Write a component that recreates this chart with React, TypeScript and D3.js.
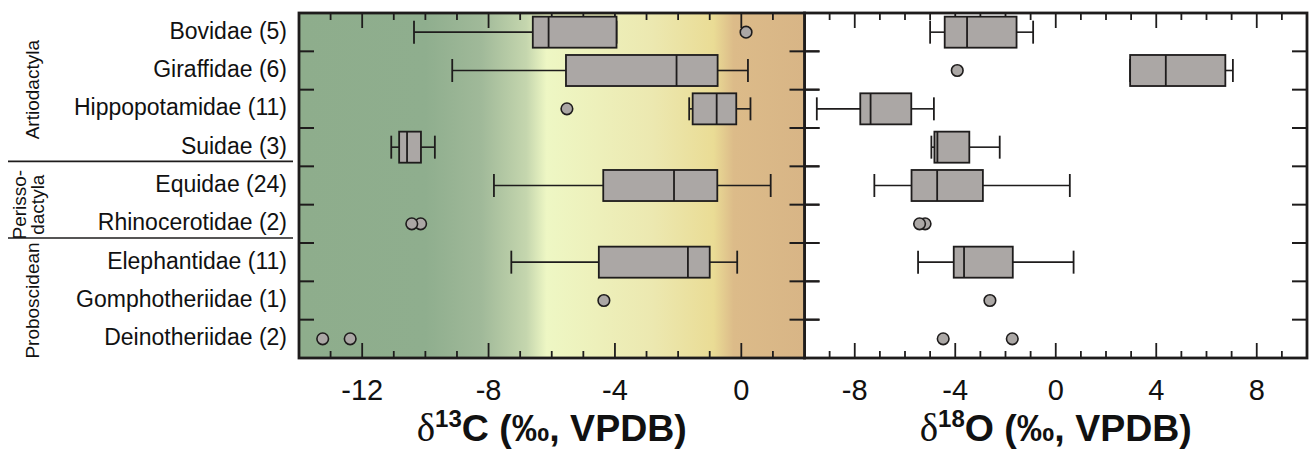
import React from "react";
import * as d3 from "d3";

const categories = [
  "Bovidae (5)",
  "Giraffidae (6)",
  "Hippopotamidae (11)",
  "Suidae (3)",
  "Equidae (24)",
  "Rhinocerotidae (2)",
  "Elephantidae (11)",
  "Gomphotheriidae (1)",
  "Deinotheriidae (2)",
];

// δ13C box statistics (null = no box)
const carbonLow = [-10.36, -9.15, -1.65, -11.08, -7.83, null, -7.28, null, null];
const carbonQ1 = [-6.6, -5.55, -1.54, -10.83, -4.37, null, -4.51, null, null];
const carbonMedian = [-6.1, -2.05, -0.78, -10.58, -2.13, null, -1.69, null, null];
const carbonQ3 = [-3.95, -0.75, -0.16, -10.14, -0.76, null, -1.0, null, null];
const carbonHigh = [-3.95, 0.21, 0.29, -9.7, 0.93, null, -0.13, null, null];
const carbonPoints = [[0.15], [], [-5.52], [], [], [-10.15, -10.43], [], [-4.35], [-13.25, -12.38]];

// δ18O box statistics
const oxygenLow = [-5.0, 2.96, -9.51, -4.95, -7.22, null, -5.48, null, null];
const oxygenQ1 = [-4.42, 2.96, -7.78, -4.83, -5.74, null, -4.06, null, null];
const oxygenMedian = [-3.53, 4.38, -7.37, -4.71, -4.72, null, -3.65, null, null];
const oxygenQ3 = [-1.56, 6.75, -5.75, -3.44, -2.9, null, -1.71, null, null];
const oxygenHigh = [-0.9, 7.05, -4.85, -2.23, 0.56, null, 0.71, null, null];
const oxygenPoints = [[], [-3.92], [], [], [], [-5.2, -5.42], [], [-2.62], [-4.48, -1.73]];

const carbonTicks = [-12, -8, -4, 0];
const oxygenTicks = [-8, -4, 0, 4, 8];

const groups = [
  { lines: ["Artiodactyla"], from: 0, to: 4 },
  { lines: ["Perisso-", "dactyla"], from: 4, to: 6 },
  { lines: ["Proboscidean"], from: 6, to: 9 },
];

const gradientStops = [
  { o: 0, c: "#8ead8c" },
  { o: 0.25, c: "#8fae8e" },
  { o: 0.36, c: "#a0b999" },
  { o: 0.45, c: "#c5d6ae" },
  { o: 0.49, c: "#eef7c4" },
  { o: 0.7, c: "#ece8b0" },
  { o: 0.82, c: "#eadc95" },
  { o: 0.86, c: "#dcbb89" },
  { o: 1, c: "#d8b586" },
];

const TOP = 13;
const BOTTOM = 358;
const FONT = "'Liberation Sans', Arial, Helvetica, sans-serif";
const INK = "#1e1c1c";
const FILL = "#aba7a5";

const y = d3.scaleBand<number>().domain(d3.range(categories.length)).range([TOP, BOTTOM]).padding(0);
const bw = y.bandwidth();

type PanelProps = {
  x: d3.ScaleLinear<number, number>;
  low: (number | null)[];
  q1: (number | null)[];
  med: (number | null)[];
  q3: (number | null)[];
  high: (number | null)[];
  points: number[][];
  ticks: number[];
  bg: string;
  title: string;
  sup: string;
};

function Panel({ x, low, q1, med, q3, high, points, ticks, bg, title, sup }: PanelProps) {
  const [x0, x1] = x.range();
  const [d0, d1] = x.domain();
  const minor = d3.range(Math.ceil(d0) + 1, d1, 1);
  const boxH = bw * 0.81;
  const capH = bw * 0.6;
  const cx = (x0 + x1) / 2;
  return (
    <g>
      <rect x={x0} y={TOP} width={x1 - x0} height={BOTTOM - TOP} fill={bg} />
      {minor.map((v) => {
        const major = ticks.includes(v);
        const L = major ? 15 : 7;
        return (
          <g key={v}>
            <line x1={x(v)} x2={x(v)} y1={TOP} y2={TOP + L} stroke={INK} strokeWidth={1.8} />
            <line x1={x(v)} x2={x(v)} y1={BOTTOM} y2={BOTTOM - L} stroke={INK} strokeWidth={1.8} />
          </g>
        );
      })}
      {d3.range(1, categories.length).map((i) => {
        const yy = TOP + i * bw;
        return (
          <g key={i}>
            <line x1={x0} x2={x0 + 15} y1={yy} y2={yy} stroke={INK} strokeWidth={2} />
            <line x1={x1 - 15} x2={x1} y1={yy} y2={yy} stroke={INK} strokeWidth={2} />
          </g>
        );
      })}
      {categories.map((_, i) => {
        const c = (y(i) as number) + bw / 2;
        const lo = low[i], a = q1[i], m = med[i], b = q3[i], hi = high[i];
        return (
          <g key={i}>
            {lo !== null && a !== null && m !== null && b !== null && hi !== null && (
              <g>
                <line x1={x(lo)} x2={x(a)} y1={c} y2={c} stroke={INK} strokeWidth={1.6} />
                <line x1={x(b)} x2={x(hi)} y1={c} y2={c} stroke={INK} strokeWidth={1.6} />
                <line x1={x(lo)} x2={x(lo)} y1={c - capH / 2} y2={c + capH / 2} stroke={INK} strokeWidth={1.8} />
                <line x1={x(hi)} x2={x(hi)} y1={c - capH / 2} y2={c + capH / 2} stroke={INK} strokeWidth={1.8} />
                <rect x={x(a)} y={c - boxH / 2} width={x(b) - x(a)} height={boxH} fill={FILL} stroke={INK} strokeWidth={1.8} />
                <line x1={x(m)} x2={x(m)} y1={c - boxH / 2} y2={c + boxH / 2} stroke={INK} strokeWidth={1.8} />
              </g>
            )}
            {points[i].map((p, k) => (
              <circle key={k} cx={x(p)} cy={c} r={5.8} fill={FILL} stroke={INK} strokeWidth={1.6} />
            ))}
          </g>
        );
      })}
      <rect x={x0} y={TOP} width={x1 - x0} height={BOTTOM - TOP} fill="none" stroke={INK} strokeWidth={2.8} />
      {ticks.map((t) => (
        <text key={t} x={x(t)} y={400} textAnchor="middle" fontFamily={FONT} fontSize={29} fill="#111">
          {t < 0 ? "-" + Math.abs(t) : String(t)}
        </text>
      ))}
      <text x={cx} y={441} textAnchor="middle" fontFamily={FONT} fontSize={37.5} fontWeight="bold" fill="#111">
        <tspan fontFamily="'Liberation Serif', 'Times New Roman', serif" fontWeight="normal" fontSize={39}>δ</tspan>
        <tspan fontSize={24} dy={-14}>{sup}</tspan>
        <tspan dy={14}>{title}</tspan>
      </text>
    </g>
  );
}

export default function App() {
  const xC = d3.scaleLinear().domain([-14, 2]).range([299, 804.5]);
  const xO = d3.scaleLinear().domain([-10, 10]).range([804.5, 1307]);
  return (
    <svg width={1309} height={451} style={{ position: "absolute", left: 0, top: 0, display: "block", background: "#fff" }}>
      <defs>
        <linearGradient id="cgrad" x1="0" x2="1" y1="0" y2="0">
          {gradientStops.map((s, i) => (
            <stop key={i} offset={s.o} stopColor={s.c} />
          ))}
        </linearGradient>
      </defs>
      {categories.map((c, i) => (
        <text key={c} x={287} y={(y(i) as number) + bw / 2 + 6.5} textAnchor="end" fontFamily={FONT} fontSize={23} fill="#111">
          {c}
        </text>
      ))}
      {groups.map((g, gi) => {
        const yc = (TOP + g.from * bw + TOP + g.to * bw) / 2;
        const n = g.lines.length;
        return (
          <g key={gi}>
            {g.lines.map((l, li) => {
              const xx = n === 1 ? 39 : 26 + li * 18;
              return (
                <text key={li} transform={`translate(${xx},${yc}) rotate(-90)`} textAnchor="middle" fontFamily={FONT} fontSize={19} fill="#111">
                  {l}
                </text>
              );
            })}
          </g>
        );
      })}
      {[4, 6].map((i) => (
        <line key={i} x1={8} x2={293} y1={TOP + i * bw - 5} y2={TOP + i * bw - 5} stroke={INK} strokeWidth={1.6} />
      ))}
      <Panel x={xO} low={oxygenLow} q1={oxygenQ1} med={oxygenMedian} q3={oxygenQ3} high={oxygenHigh} points={oxygenPoints} ticks={oxygenTicks} bg="#ffffff" title="O (‰, VPDB)" sup="18" />
      <Panel x={xC} low={carbonLow} q1={carbonQ1} med={carbonMedian} q3={carbonQ3} high={carbonHigh} points={carbonPoints} ticks={carbonTicks} bg="url(#cgrad)" title="C (‰, VPDB)" sup="13" />
      {d3.range(1, categories.length).map((i) => (
        <line key={i} x1={804.5} x2={819.5} y1={TOP + i * bw} y2={TOP + i * bw} stroke={INK} strokeWidth={2} />
      ))}
    </svg>
  );
}
